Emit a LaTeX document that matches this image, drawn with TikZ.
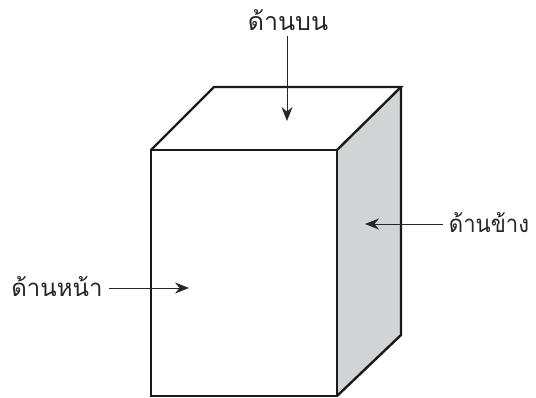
\documentclass[tikz,border=0pt]{standalone}
\usepackage{fontspec}
\newfontfamily\thaifont[Script=Thai]{Loma}
\newfontfamily\thainarrow[Script=Thai, FakeStretch=0.92]{Loma}
\usepackage{xcolor}
\usetikzlibrary{arrows.meta, positioning}
\definecolor{sidegray}{RGB}{209,211,212}
\tikzset{
  facelabel/.style={font=\thainarrow\fontsize{24}{26}\selectfont, inner sep=0pt, text=black!85},
  widelabel/.style={facelabel, font=\thaifont\fontsize{24}{26}\selectfont},
  toplabel/.style={facelabel, font=\thaifont\fontsize{25}{27}\selectfont},
  edgeline/.style={draw=black!90, line width=2.4pt, line join=miter},
  arrow/.style={-{Stealth[length=14pt, width=11pt]}, line width=1pt, black!85},
}

\begin{document}
\begin{tikzpicture}[x=1pt, y=-1pt]
  \useasboundingbox (0,0) rectangle (536,397);
  % corners of the box
  \coordinate (fronttl) at (151,150);
  \coordinate (fronttr) at (337,150);
  \coordinate (frontbl) at (151,396);
  \coordinate (frontbr) at (337,396);
  \coordinate (backtl) at (214,87);
  \coordinate (backtr) at (401,87);
  \coordinate (backbr) at (401,335);

  \fill[sidegray] (fronttr) -- (backtr) -- (backbr) -- (frontbr) -- cycle;
  \draw[edgeline] (fronttl) -- (fronttr) -- (frontbr) -- (frontbl) -- cycle;
  \draw[edgeline] (fronttl) -- (backtl) -- (backtr) -- (fronttr);
  \draw[edgeline] (backtr) -- (backbr) -- (frontbr);

  \node[toplabel] (top) at (288,20) {ด้านบน};
  \node[facelabel] (side) at (489,223) {ด้านข้าง};
  \node[widelabel] (front) at (57,287) {ด้านหน้า};

  \coordinate (toptip) at (287,121);
  \coordinate (sidetip) at (365,224);
  \coordinate (fronttip) at (189,288);

  \draw[arrow] (top.south -| toptip) ++(0,5) -- (toptip);
  \draw[arrow] (side.west |- sidetip) ++(-6,0) -- (sidetip);
  \draw[arrow] (front.east |- fronttip) ++(6,0) -- (fronttip);
\end{tikzpicture}
\end{document}
